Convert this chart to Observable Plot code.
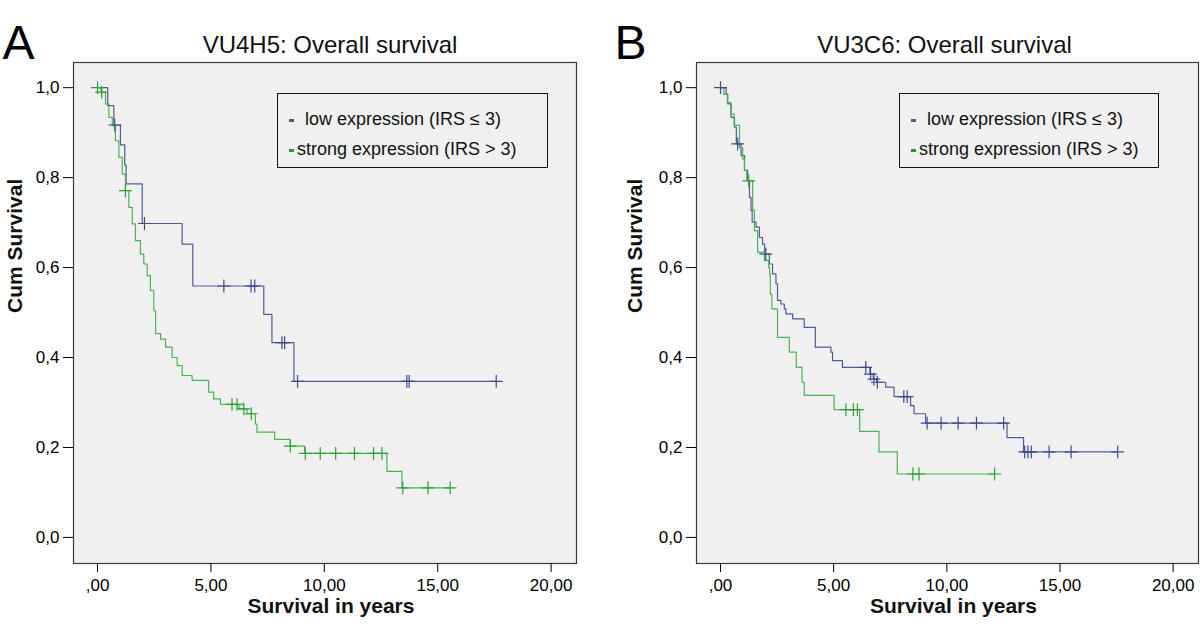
<!DOCTYPE html>
<html>
<head>
<meta charset="utf-8">
<script src="https://cdn.jsdelivr.net/npm/d3@7"></script>
<script src="https://cdn.jsdelivr.net/npm/@observablehq/plot@0.6"></script>
<style>
  body { margin: 0; background: #ffffff; }
  #root { position: relative; width: 1200px; height: 631px; overflow: hidden; background: #ffffff;
          font-family: "Liberation Sans", Arial, sans-serif; }
  #root svg.panel { position: absolute; top: 0; }
  .legend { position: absolute; top: 93px; height: 73px; border: 1px solid #111; background: #f0f0f0; }
  .legend .dash { position: absolute; width: 5px; height: 3px; }
  .legend .lab { position: absolute; font-size: 18px; line-height: 18px; color: #111; white-space: nowrap; }
</style>
</head>
<body>
<div id="root"></div>
<script>
// ---------- text ----------
const panelLetters = ["A", "B"];
const panelTitles = ["VU4H5: Overall survival", "VU3C6: Overall survival"];
const groupLabels = ["low expression (IRS \u2264 3)", "strong expression (IRS > 3)"];
const xLabel = "Survival in years";
const yLabel = "Cum Survival";
const xTicks = [0, 5, 10, 15, 20];
const xTickLabels = [",00", "5,00", "10,00", "15,00", "20,00"];
const yTicks = [0, 0.2, 0.4, 0.6, 0.8, 1.0];
const yTickLabels = ["0,0", "0,2", "0,4", "0,6", "0,8", "1,0"];

// ---------- Panel A (VU4H5) ----------
const aLowTimes = [0.45, 0.72, 1.01, 1.2, 1.26, 1.97, 3.73, 4.2, 7.33, 7.69, 8.66];
const aLowSurv  = [0.96, 0.917, 0.873, 0.828, 0.786, 0.698, 0.652, 0.559, 0.496, 0.433, 0.347];
const aLowCensor = [0.76, 2.07, 5.57, 6.77, 6.93, 8.13, 8.25, 8.82, 13.64, 13.74, 17.58];

const aStrongTimes = [0.15, 0.35, 0.5, 0.65, 0.79, 0.94, 1.09, 1.23, 1.38, 1.53, 1.67, 1.89, 2.04, 2.19, 2.33, 2.48, 2.56, 2.78, 3.0, 3.29, 3.51, 3.73, 4.17, 4.9, 5.12, 5.42, 6.23, 6.59, 6.96, 7.03, 7.81, 8.5, 9.13, 12.76, 13.42];
const aStrongSurv  = [0.99, 0.964, 0.934, 0.915, 0.882, 0.845, 0.808, 0.771, 0.734, 0.697, 0.66, 0.63, 0.608, 0.582, 0.549, 0.504, 0.453, 0.441, 0.423, 0.40, 0.382, 0.36, 0.349, 0.323, 0.308, 0.296, 0.286, 0.275, 0.252, 0.234, 0.218, 0.203, 0.187, 0.147, 0.11];
const aStrongCensor = [0.0, 0.18, 1.23, 5.93, 6.15, 6.45, 6.78, 8.5, 9.16, 9.82, 10.5, 11.33, 12.17, 12.54, 13.46, 14.57, 15.55];

// ---------- Panel B (VU3C6) ----------
const bLowTimes = [0.25, 0.32, 0.47, 0.62, 0.70, 0.91, 1.06, 1.2, 1.28, 1.35, 1.4, 1.57, 1.72, 1.86, 1.95, 2.16, 2.3, 2.45, 2.52, 2.67, 2.82, 2.89, 3.19, 3.7, 4.19, 4.88, 4.95, 5.39, 6.6, 6.75, 6.9, 7.3, 7.67, 8.4, 8.55, 9.06, 12.66, 13.39];
const bLowSurv  = [0.986, 0.964, 0.934, 0.912, 0.875, 0.849, 0.816, 0.793, 0.756, 0.727, 0.701, 0.69, 0.667, 0.652, 0.63, 0.608, 0.586, 0.564, 0.527, 0.519, 0.508, 0.497, 0.486, 0.467, 0.423, 0.412, 0.393, 0.378, 0.363, 0.352, 0.345, 0.334, 0.313, 0.293, 0.275, 0.254, 0.222, 0.19];
const bLowCensor = [0.0, 0.76, 2.0, 6.42, 6.63, 6.78, 6.93, 8.1, 8.25, 9.13, 9.75, 10.5, 11.31, 12.51, 13.44, 13.58, 13.73, 14.52, 15.49, 17.55];

const bStrongTimes = [0.15, 0.3, 0.45, 0.6, 0.84, 0.98, 1.06, 1.16, 1.42, 1.5, 1.64, 1.94, 2.13, 2.17, 2.2, 2.27, 2.52, 3.04, 3.35, 3.6, 3.7, 5.02, 6.15, 7.0, 7.81];
const bStrongSurv  = [0.985, 0.967, 0.941, 0.916, 0.867, 0.841, 0.816, 0.793, 0.727, 0.682, 0.634, 0.616, 0.60, 0.585, 0.541, 0.508, 0.445, 0.412, 0.378, 0.345, 0.316, 0.284, 0.236, 0.19, 0.141];
const bStrongCensor = [1.25, 5.54, 5.87, 6.05, 8.5, 8.77, 12.11];

const lineColors = ["#4f5b99", "#49b54f"];
const markColors = ["#3f4a8a", "#2f9f3a"];
const dashColors = ["#4c6080", "#1d9d33"];

// ---------- helpers ----------
function survAt(times, surv, c) {
  let s = 1;
  for (let i = 0; i < times.length; i++) if (times[i] <= c) s = surv[i];
  return s;
}
function stepData(times, surv, censor) {
  const pts = [{t: 0, s: 1}];
  times.forEach((t, i) => pts.push({t, s: surv[i]}));
  const end = Math.max(times[times.length - 1], ...censor);
  pts.push({t: end, s: surv[surv.length - 1]});
  return pts;
}
function censorData(times, surv, censor) {
  return censor.map(c => ({t: c, s: survAt(times, surv, c)}));
}

function panel(opts) {
  const {letter, title, low, strong, marginLeft, marginRight, left} = opts;
  const svg = Plot.plot({
    width: 600,
    height: 631,
    marginLeft, marginRight,
    marginTop: 62,
    marginBottom: 68,
    x: {domain: [-1.06, 21.12]},
    y: {domain: [-0.058, 1.056]},
    style: {fontFamily: "'Liberation Sans', Arial, sans-serif", fontSize: "17px", color: "#000", background: "transparent", overflow: "visible"},
    marks: [
      Plot.frame({fill: "#f0f0f0", stroke: "#3a3a3a", strokeWidth: 1.2}),
      Plot.axisX(xTicks, {tickSize: 9, tickPadding: 6, fontSize: 17, label: null,
        tickFormat: d => xTickLabels[xTicks.indexOf(d)]}),
      Plot.axisY(yTicks, {tickSize: 10, tickPadding: 4, fontSize: 17, label: null,
        tickFormat: d => yTickLabels[yTicks.indexOf(d)]}),
      Plot.line(stepData(...low), {x: "t", y: "s", curve: "step-after", stroke: lineColors[0], strokeWidth: 1.2}),
      Plot.line(stepData(...strong), {x: "t", y: "s", curve: "step-after", stroke: lineColors[1], strokeWidth: 1.2}),
      Plot.dot(censorData(...low), {x: "t", y: "s", symbol: "plus", r: 4.2, stroke: markColors[0], strokeWidth: 1.2}),
      Plot.dot(censorData(...strong), {x: "t", y: "s", symbol: "plus", r: 4.2, stroke: markColors[1], strokeWidth: 1.2}),
      Plot.text([letter], {frameAnchor: "top-left", textAnchor: "start", dx: opts.letterDx, dy: -37.4, fontSize: 48, text: d => d, fill: "#000"}),
      Plot.text([title], {frameAnchor: "top", dx: opts.titleDx, dy: -26.7, fontSize: 24, text: d => d, fill: "#111"}),
      Plot.text([xLabel], {frameAnchor: "bottom", dx: 6, dy: 49, fontSize: 21, fontWeight: "bold", text: d => d, fill: "#111"}),
      Plot.text([yLabel], {frameAnchor: "left", dx: opts.yLabelDx, rotate: -90, fontSize: 21, fontWeight: "bold", text: d => d, fill: "#111"})
    ]
  });
  svg.classList.add("panel");
  svg.style.left = left + "px";
  return svg;
}

function legend(left, width) {
  const box = document.createElement("div");
  box.className = "legend";
  box.style.left = left + "px";
  box.style.width = width + "px";
  groupLabels.forEach((lab, i) => {
    const dash = document.createElement("div");
    dash.className = "dash";
    dash.style.left = "11px";
    dash.style.top = (25 + i * 30) + "px";
    dash.style.background = dashColors[i];
    box.appendChild(dash);
    const t = document.createElement("div");
    t.className = "lab";
    t.style.left = (i === 0 ? 27 : 19) + "px";
    t.style.top = (16 + i * 30) + "px";
    t.textContent = lab;
    box.appendChild(t);
  });
  return box;
}

const root = document.getElementById("root");
root.appendChild(panel({
  letter: panelLetters[0], title: panelTitles[0],
  low: [aLowTimes, aLowSurv, aLowCensor], strong: [aStrongTimes, aStrongSurv, aStrongCensor],
  marginLeft: 73, marginRight: 24, left: 0, letterDx: -71, yLabelDx: -58, titleDx: 5
}));
root.appendChild(panel({
  letter: panelLetters[1], title: panelTitles[1],
  low: [bLowTimes, bLowSurv, bLowCensor], strong: [bStrongTimes, bStrongSurv, bStrongCensor],
  marginLeft: 96, marginRight: 2, left: 600, letterDx: -82, yLabelDx: -61, titleDx: -3
}));
root.appendChild(legend(277, 269));
root.appendChild(legend(899, 258));
</script>
</body>
</html>
